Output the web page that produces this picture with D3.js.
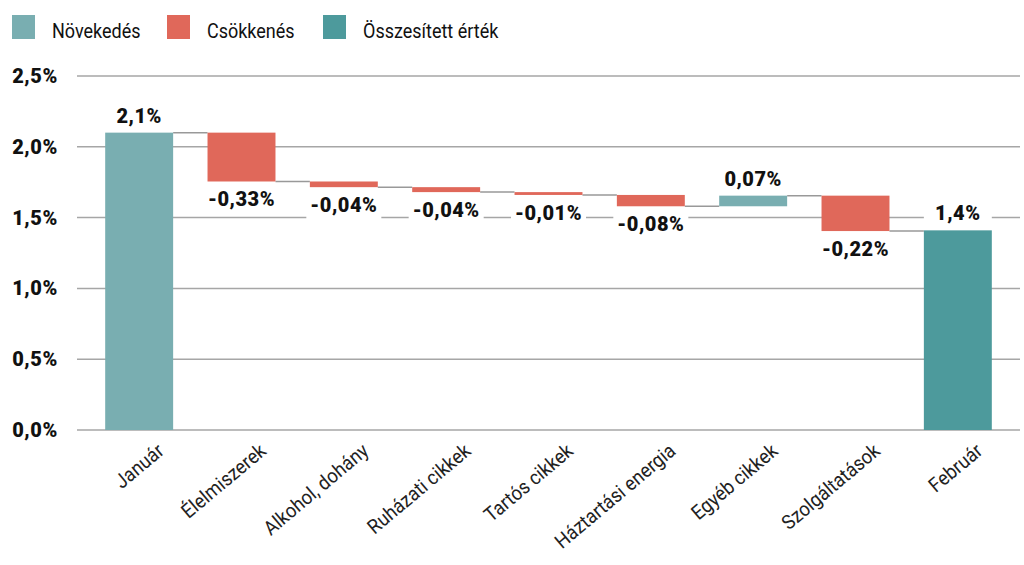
<!DOCTYPE html>
<html>
<head>
<meta charset="utf-8">
<script src="https://cdn.jsdelivr.net/npm/d3@7"></script>
<style>
  body { margin: 0; background: #fff; }
  svg { font-family: Roboto, "Noto Sans", sans-serif; }
</style>
</head>
<body>
<svg id="chart" width="1024" height="565"></svg>
<script>
// categories and values
var categories = ["Január", "Élelmiszerek", "Alkohol, dohány", "Ruházati cikkek", "Tartós cikkek",
  "Háztartási energia", "Egyéb cikkek", "Szolgáltatások", "Február"];
var kinds = ["start", "dec", "dec", "dec", "dec", "dec", "inc", "dec", "total"];
// values printed on the labels
var shownValues = [2.1, -0.33, -0.04, -0.04, -0.01, -0.08, 0.07, -0.22, 1.4];
// bar sizes as drawn
var barValues = [2.1, -0.345, -0.04, -0.035, -0.02, -0.08, 0.075, -0.25, 1.41];
var yTicks = [0, 0.5, 1, 1.5, 2, 2.5];
var legendNames = ["Növekedés", "Csökkenés", "Összesített érték"];

var colors = { inc: "#79aeb1", dec: "#e0685a", total: "#4d9a9c" };
var legendColors = [colors.inc, colors.dec, colors.total];

var hu = d3.formatLocale({ decimal: ",", thousands: " ", grouping: [3], currency: ["", " Ft"], minus: "-" });
var fmt1 = hu.format(".1f"), fmt2 = hu.format(".2f");

var svg = d3.select("#chart");

var x = d3.scaleBand().domain(categories).range([88, 1009]).paddingInner(0.336).paddingOuter(0.168);
var y = d3.scaleLinear().domain([0, 2.5]).range([430, 76]);

// running totals
var bars = [];
var running = 0;
barValues.forEach(function(v, i) {
  var b = { name: categories[i], kind: kinds[i], shown: shownValues[i] };
  if (kinds[i] == "start" || kinds[i] == "total") {
    b.y0 = 0; b.y1 = v; running = v;
  } else {
    b.y0 = running; b.y1 = running + v; running = b.y1;
  }
  b.end = running;
  bars.push(b);
});

// grid
svg.append("g").selectAll("line").data(yTicks).enter().append("line")
  .attr("x1", 77).attr("x2", 1020)
  .attr("y1", function(d) { return y(d); }).attr("y2", function(d) { return y(d); })
  .attr("stroke", "#a6a6a6").attr("stroke-width", 1.5);

svg.append("g").selectAll("text").data(yTicks).enter().append("text")
  .attr("x", 58).attr("y", function(d) { return y(d) + 7; })
  .attr("text-anchor", "end")
  .attr("font-size", 20).attr("font-weight", 900).attr("letter-spacing", 0.6).attr("fill", "#111")
  .text(function(d) { return fmt1(d) + "%"; });

// connectors
svg.append("g").selectAll("line").data(bars.slice(0, -1)).enter().append("line")
  .attr("x1", function(d) { return x(d.name) + x.bandwidth(); })
  .attr("x2", function(d, i) { return x(categories[i + 1]); })
  .attr("y1", function(d) { return y(d.end); }).attr("y2", function(d) { return y(d.end); })
  .attr("stroke", "#999").attr("stroke-width", 1.5);

// bars
svg.append("g").selectAll("rect").data(bars).enter().append("rect")
  .attr("x", function(d) { return x(d.name); })
  .attr("width", x.bandwidth())
  .attr("y", function(d) { return y(Math.max(d.y0, d.y1)); })
  .attr("height", function(d) { return Math.abs(y(d.y0) - y(d.y1)); })
  .attr("fill", function(d) { return d.kind == "total" ? colors.total : (d.kind == "dec" ? colors.dec : colors.inc); });

// value labels with white plates
var labels = svg.append("g").selectAll("g").data(bars).enter().append("g");
labels.each(function(d) {
  var g = d3.select(this);
  var cx = x(d.name) + x.bandwidth() / 2;
  var txt = (d.kind == "start" || d.kind == "total") ? fmt1(d.shown) : fmt2(d.shown);
  var base = d.kind == "dec" ? y(Math.min(d.y0, d.y1)) + 25 : y(Math.max(d.y0, d.y1)) - 10;
  var rect = g.append("rect").attr("fill", "#fff");
  var t = g.append("text").attr("x", cx).attr("y", base)
    .attr("text-anchor", "middle").attr("font-size", 20).attr("font-weight", 900)
    .attr("letter-spacing", 0.5).attr("fill", "#111")
    .text(txt + "%");
  var w = Math.max(x.bandwidth(), t.node().getComputedTextLength() + 8);
  rect.attr("x", cx - w / 2).attr("width", w).attr("y", base - 19).attr("height", 26);
});

// x labels
svg.append("g").selectAll("text").data(categories).enter().append("text")
  .attr("transform", function(d) { return "translate(" + (x(d) + x.bandwidth() / 2 + 26) + ",453) rotate(-40) scale(0.92,1)"; })
  .attr("text-anchor", "end")
  .attr("font-size", 20).attr("fill", "#222")
  .text(function(d) { return d; });

// legend
var legX = [12, 167, 323];
var leg = svg.append("g").selectAll("g").data(legendNames).enter().append("g")
  .attr("transform", function(d, i) { return "translate(" + legX[i] + ",15)"; });
leg.append("rect").attr("width", 23).attr("height", 24)
  .attr("fill", function(d, i) { return legendColors[i]; });
leg.append("text").attr("transform", "translate(40,22.5) scale(0.9,1)")
  .attr("font-size", 20).attr("fill", "#111")
  .text(function(d) { return d; });
</script>
</body>
</html>
